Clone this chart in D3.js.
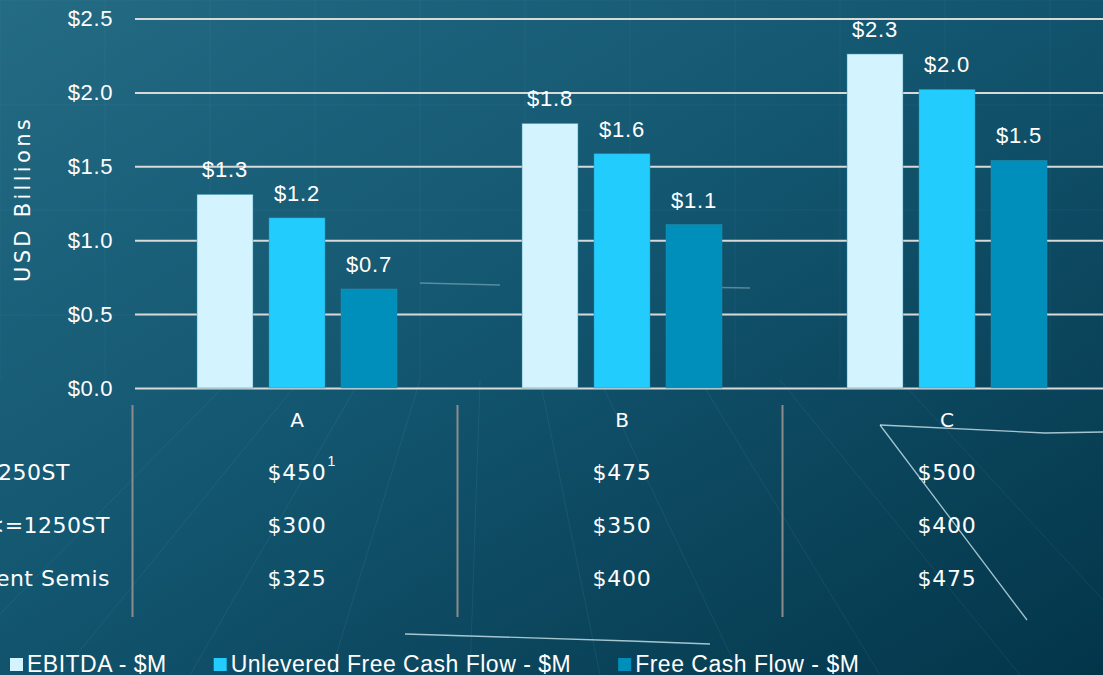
<!DOCTYPE html>
<html>
<head>
<meta charset="utf-8">
<script src="https://cdn.jsdelivr.net/npm/d3@7"></script>
<style>
  body { margin: 0; overflow: hidden; background: #0b4a62; }
</style>
</head>
<body>
<div id="chart"></div>
<script>
// data
var groups = ["A", "B", "C"];
var seriesNames = ["EBITDA - $M", "Unlevered Free Cash Flow - $M", "Free Cash Flow - $M"];
var ebitda = [1.31, 1.79, 2.26];
var unleveredFcf = [1.151, 1.585, 2.02];
var freeCashFlow = [0.67, 1.106, 1.54];
var yTicks = [0, 0.5, 1.0, 1.5, 2.0, 2.5];
// row labels are cut by the left edge of the slide, only the visible part is kept
var rowLabels = ["250ST", "<=1250ST", "ent Semis"];
var rowA = [450, 300, 325];
var rowB = [475, 350, 400];
var rowC = [500, 400, 475];
var footnote = { group: "A", row: 0, mark: "1" };

var colors = ["#d3f3fe", "#22cdfe", "#008fbb"];
var seriesValues = [ebitda, unleveredFcf, freeCashFlow];
var tableValues = [rowA, rowB, rowC];
var rowLabelEnd = [70, 110, 110]; // right edge of each (clipped) row label

var W = 1103, H = 675;

var svg = d3.select("#chart").append("svg")
       .attr("width", W)
       .attr("height", H);

// background
var defs = svg.append("defs");
var grad = defs.append("linearGradient")
       .attr("id", "bg")
       .attr("x1", "0").attr("y1", "0")
       .attr("x2", "1").attr("y2", "1");
grad.append("stop").attr("offset", "0%").attr("stop-color", "#246b84");
grad.append("stop").attr("offset", "45%").attr("stop-color", "#135670");
grad.append("stop").attr("offset", "100%").attr("stop-color", "#033549");

svg.append("rect")
       .attr("width", W).attr("height", H)
       .attr("fill", "url(#bg)");

// faint blueprint grid behind everything
var deco = svg.append("g").attr("stroke", "#9fd6e8").attr("fill", "none");
d3.range(0, W, 105).forEach(function (x) {
       deco.append("line").attr("x1", x).attr("x2", x).attr("y1", 0).attr("y2", 380)
              .attr("stroke-opacity", 0.06);
});
d3.range(0, 380, 105).forEach(function (y) {
       deco.append("line").attr("x1", 0).attr("x2", W).attr("y1", y).attr("y2", y)
              .attr("stroke-opacity", 0.06);
});
// perspective lines in the lower part
[[-60, 675, 230, 380], [60, 675, 300, 380], [190, 675, 360, 380], [330, 675, 420, 380],
 [470, 675, 480, 380], [600, 675, 540, 380], [740, 675, 600, 380], [880, 675, 700, 380],
 [1020, 675, 780, 380], [1103, 600, 900, 380]].forEach(function (l) {
       deco.append("line").attr("x1", l[0]).attr("y1", l[1]).attr("x2", l[2]).attr("y2", l[3])
              .attr("stroke-opacity", 0.09);
});
// bright streaks
var streaks = [
       [[880, 425], [1045, 433], [1103, 432]],
       [[880, 425], [1027, 620]],
       [[405, 634], [630, 641], [710, 644]],
       [[420, 283], [500, 285]],
       [[690, 287], [750, 288]]
];
streaks.forEach(function (s, i) {
       deco.append("path")
              .attr("d", d3.line()(s))
              .attr("stroke", "#d8f1f8")
              .attr("stroke-opacity", i < 3 ? 0.75 : 0.35)
              .attr("stroke-width", 1.3);
});

// scales
var x0 = d3.scaleBand()
       .domain(groups)
       .range([134.5, 1109.5]);

var x1 = d3.scaleBand()
       .domain(seriesNames)
       .range([62.5, 262.5])
       .paddingInner(2 / 9);

var y = d3.scaleLinear()
       .domain([0, 2.5])
       .range([388, 18.5]);

var fmt = d3.format("$.1f");

// y axis with gridlines
var yAxis = svg.append("g")
       .attr("transform", "translate(135,0)")
       .call(d3.axisLeft(y)
              .tickValues(yTicks)
              .tickFormat(fmt)
              .tickSizeInner(-(W - 135))
              .tickSizeOuter(0)
              .tickPadding(22));
yAxis.select(".domain").remove();
yAxis.selectAll(".tick line")
       .attr("stroke", "#d9d9d9")
       .attr("stroke-width", 2);
yAxis.selectAll(".tick text")
       .attr("fill", "#ffffff")
       .style("font", "22px 'Liberation Sans', Arial, sans-serif")
       .style("letter-spacing", "0.6px");

svg.append("text")
       .attr("transform", "translate(30,199) rotate(-90)")
       .attr("text-anchor", "middle")
       .attr("fill", "#ffffff")
       .style("font", "21px 'DejaVu Sans', sans-serif")
       .style("letter-spacing", "3.3px")
       .text("USD Billions");

// bars
var barData = [];
groups.forEach(function (g, gi) {
       seriesNames.forEach(function (s, si) {
              barData.push({ group: g, series: s, si: si, value: seriesValues[si][gi] });
       });
});

var bars = svg.append("g");
bars.selectAll("rect")
       .data(barData)
       .join("rect")
       .attr("x", function (d) { return x0(d.group) + x1(d.series); })
       .attr("y", function (d) { return y(d.value); })
       .attr("width", x1.bandwidth())
       .attr("height", function (d) { return y(0) - y(d.value); })
       .attr("fill", function (d) { return colors[d.si]; })
       .attr("stroke", "#2b8fae")
       .attr("stroke-opacity", 0.6)
       .attr("stroke-width", 0.8);

bars.selectAll("text")
       .data(barData)
       .join("text")
       .attr("x", function (d) { return x0(d.group) + x1(d.series) + x1.bandwidth() / 2; })
       .attr("y", function (d) { return y(d.value) - 17; })
       .attr("text-anchor", "middle")
       .attr("fill", "#ffffff")
       .style("font", "22px 'Liberation Sans', Arial, sans-serif")
       .style("letter-spacing", "0.8px")
       .text(function (d) { return fmt(d.value); });

// table under the chart
var rowY = d3.scalePoint()
       .domain(["header"].concat(rowLabels))
       .range([420, 578]);

var table = svg.append("g").attr("fill", "#ffffff");

groups.forEach(function (g, gi) {
       var cx = x0(g) + x0.bandwidth() / 2;
       table.append("line")
              .attr("x1", x0(g) - 2).attr("x2", x0(g) - 2)
              .attr("y1", 405).attr("y2", 617)
              .attr("stroke", "#8c8c8c")
              .attr("stroke-width", 2);
       table.append("text")
              .attr("x", cx)
              .attr("y", rowY("header"))
              .attr("dy", "0.35em")
              .attr("text-anchor", "middle")
              .style("font", "20px 'DejaVu Sans', sans-serif")
              .text(g);
       rowLabels.forEach(function (r, ri) {
              var t = table.append("text")
                     .attr("x", cx)
                     .attr("y", rowY(r))
                     .attr("dy", "0.35em")
                     .attr("text-anchor", "middle")
                     .style("font", "22px 'DejaVu Sans', sans-serif")
                     .style("letter-spacing", "0.8px")
                     .text("$" + tableValues[gi][ri]);
              if (footnote.group === g && footnote.row === ri) {
                     var w = t.node().getComputedTextLength();
                     table.append("text")
                            .attr("x", cx + w / 2 + 1)
                            .attr("y", rowY(r) - 7)
                            .style("font", "14px 'Liberation Sans', Arial, sans-serif")
                            .text(footnote.mark);
              }
       });
});

rowLabels.forEach(function (r, ri) {
       table.append("text")
              .attr("x", rowLabelEnd[ri])
              .attr("y", rowY(r))
              .attr("dy", "0.35em")
              .attr("text-anchor", "end")
              .style("font", "22px 'DejaVu Sans', sans-serif")
              .style("letter-spacing", "0.5px")
              .text(r);
});

// legend
var legend = svg.append("g");
var lx = 10;
seriesNames.forEach(function (s, si) {
       legend.append("rect")
              .attr("x", lx).attr("y", 658)
              .attr("width", 13).attr("height", 13)
              .attr("fill", colors[si]);
       var t = legend.append("text")
              .attr("x", lx + 17)
              .attr("y", 672)
              .attr("fill", "#ffffff")
              .style("font", "23px 'Liberation Sans', Arial, sans-serif")
              .style("letter-spacing", "0.5px")
              .text(s);
       lx += 17 + t.node().getComputedTextLength() + 47;
});
</script>
</body>
</html>
